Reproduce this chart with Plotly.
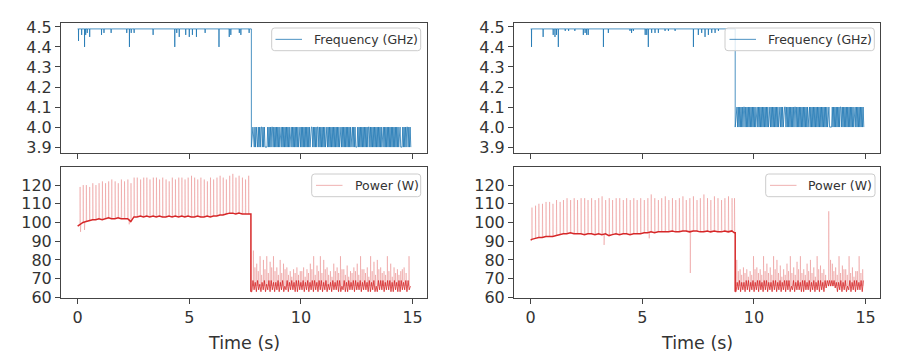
import plotly.graph_objects as go

# ------------------------------------------------------------------ data
# ---- left run: frequency (GHz)
FL_TOP = 4.49
FL_DIP_T = [0.04, 0.18, 0.31, 0.36, 0.43, 0.54, 1.07, 1.18, 1.50, 2.20, 2.32, 2.40, 2.53, 3.38,
            4.35, 4.44, 4.55, 4.84, 5.00, 5.14, 5.32, 5.71, 6.33, 6.79, 6.86, 7.24, 7.31, 7.68]
FL_DIP_V = [4.43, 4.46, 4.40, 4.46, 4.47, 4.45, 4.46, 4.47, 4.47, 4.47, 4.40, 4.47, 4.47, 4.46,
            4.40, 4.47, 4.45, 4.46, 4.45, 4.46, 4.45, 4.47, 4.40, 4.45, 4.46, 4.47, 4.46, 4.47]
FL_DROP_T = 7.78
FL_BAND_LO = 3.9
FL_BAND_HI = 4.0
FL_BAND_T0 = 7.85
FL_BAND_T1 = 14.92
# '1' = high state, '0' = low state, one char per sample
FL_BAND = ("1001010010101101010" "000"
           "1010101101010101010110101010101010110101010101011010101010101010" "111"
           "0101010110101010101011010101010101010101011010101010101010110101" "000"
           "1010101010101010110101010101010101010110101010101010101010101011" "000"
           "1010101101010")

# ---- right run: frequency (GHz)
FR_TOP = 4.49
FR_DIP_T = [0.04, 0.56, 1.01, 1.09, 1.16, 1.24, 1.55, 1.70, 1.98, 2.36, 2.44, 2.51, 2.58, 3.26,
            3.48, 4.45, 4.52, 4.60, 5.13, 5.20, 5.27, 5.42, 5.57, 5.72, 6.02, 6.17, 6.47, 7.29,
            7.51, 7.66, 7.81, 7.96, 8.11, 8.26, 8.41]
FR_DIP_V = [4.40, 4.45, 4.46, 4.45, 4.46, 4.40, 4.48, 4.48, 4.48, 4.46, 4.47, 4.46, 4.46, 4.40,
            4.47, 4.48, 4.47, 4.48, 4.46, 4.46, 4.40, 4.47, 4.47, 4.47, 4.48, 4.48, 4.48, 4.40,
            4.46, 4.47, 4.45, 4.46, 4.47, 4.47, 4.48]
FR_DROP_T = 9.16
FR_BAND_LO = 4.0
FR_BAND_HI = 4.1
FR_BAND_T0 = 9.24
FR_BAND_T1 = 14.92
FR_BAND = ("1010101010110101010101010101011010101010101010101101010101010101101010" "111"
           "010101010101011010101010101010101011010101010101010101010101010110" "000"
           "101010101010110101010101010101010110101010101010")

# ---- left run: power (W)
PL_START = 98.0
PL_SPK_T = [0.10, 0.24, 0.38, 0.53, 0.67, 0.81, 0.95, 1.10, 1.24, 1.38,
            1.52, 1.67, 1.81, 1.95, 2.09, 2.24, 2.38, 2.52, 2.66, 2.81,
            2.95, 3.09, 3.23, 3.38, 3.52, 3.66, 3.80, 3.95, 4.09, 4.23,
            4.37, 4.52, 4.66, 4.80, 4.94, 5.09, 5.23, 5.37, 5.51, 5.66,
            5.80, 5.94, 6.08, 6.23, 6.37, 6.51, 6.65, 6.80, 6.94, 7.08,
            7.22, 7.37, 7.51, 7.65]
PL_SPK_P = [119, 120, 120, 119, 121, 120, 121, 122, 121, 122,
            123, 122, 121, 123, 122, 123, 121, 124, 124, 123,
            124, 124, 123, 124, 124, 123, 124, 123, 122, 124,
            123, 124, 124, 123, 124, 125, 124, 123, 124, 123,
            122, 124, 123, 124, 125, 124, 123, 125, 126, 124,
            125, 124, 123, 125]
PL_BASE = [99.0, 100.0, 100.5, 101.0, 101.5, 101.5, 102.0, 101.5, 102.0, 102.5,
           102.0, 102.0, 102.5, 102.0, 102.0, 102.0, 100.5, 103.0, 103.0, 103.5,
           103.0, 103.5, 103.0, 103.5, 103.0, 103.5, 103.0, 103.0, 103.5, 103.0,
           103.5, 103.0, 103.5, 103.0, 103.5, 103.0, 103.0, 103.5, 103.0, 103.0,
           103.5, 103.0, 103.5, 103.5, 104.0, 104.0, 104.5, 105.0, 105.0, 104.5,
           105.0, 104.5, 104.5, 104.5]
PL_DIP_T = [0.12, 0.30, 2.30]
PL_DIP_V = [95.0, 96.0, 99.0]
PL_DROP_T = 7.76
PL_LOW_T0 = 7.80
PL_LOW_T1 = 14.90
# one digit per sample: watts above 60
PL_LOW = ("3948394738" "4937493948" "3849384936" "4938494839" "3948493849"
          "3849394839" "4938493748" "3948493936" "4938394849" "3948493849"
          "4839384936" "3949493849" "4938394839" "3948493946")
PL_LOW_BASE = 66
PL_LSPK_T = [7.86, 8.01, 8.16, 8.31, 8.46, 8.61, 8.76, 8.91, 9.06, 9.21,
             9.36, 9.51, 9.66, 9.81, 9.96, 10.11, 10.26, 10.41, 10.56, 10.71,
             10.86, 11.01, 11.16, 11.31, 11.46, 11.61, 11.76, 11.91, 12.06, 12.21,
             12.36, 12.51, 12.66, 12.81, 12.96, 13.11, 13.26, 13.41, 13.56, 13.71,
             13.86, 14.01, 14.16, 14.31, 14.46, 14.61, 14.83]
PL_LSPK_P = [85, 78, 82, 80, 82, 79, 82, 76, 80, 78,
             76, 74, 75, 76, 74, 76, 75, 78, 82, 77,
             82, 80, 76, 74, 78, 76, 82, 75, 77, 74,
             76, 78, 82, 75, 76, 82, 79, 80, 76, 74,
             82, 78, 76, 75, 74, 76, 82]
PL_LSPK2_T = [7.93, 8.08, 8.23, 8.38, 8.53, 8.68, 8.83, 8.98, 9.13, 9.28,
              9.43, 9.58, 9.73, 9.88, 10.03, 10.18, 10.33, 10.48, 10.63, 10.78,
              10.93, 11.08, 11.23, 11.38, 11.53, 11.68, 11.83, 11.98, 12.13, 12.28,
              12.43, 12.58, 12.73, 12.88, 13.03, 13.18, 13.33, 13.48, 13.63, 13.78,
              13.93, 14.08, 14.23, 14.38, 14.53, 14.70]
PL_LSPK2_P = [76, 74, 72, 75, 73, 76, 74, 72, 73, 75,
              72, 71, 73, 72, 74, 71, 73, 75, 72, 74,
              73, 75, 72, 71, 74, 73, 75, 72, 71, 73,
              74, 72, 75, 73, 71, 74, 72, 75, 73, 72,
              74, 71, 73, 72, 75, 73]

# ---- right run: power (W)
PR_START = 90.5
PR_SPK_T = [0.05, 0.21, 0.36, 0.52, 0.68, 0.84, 0.99, 1.15, 1.31, 1.46,
            1.62, 1.78, 1.94, 2.09, 2.25, 2.41, 2.56, 2.72, 2.88, 3.04,
            3.19, 3.35, 3.51, 3.66, 3.82, 3.98, 4.14, 4.29, 4.45, 4.61,
            4.76, 4.92, 5.08, 5.24, 5.39, 5.55, 5.71, 5.86, 6.02, 6.18,
            6.34, 6.49, 6.65, 6.81, 6.96, 7.12, 7.28, 7.44, 7.59, 7.75,
            7.91, 8.06, 8.22, 8.38, 8.54, 8.69, 8.85, 9.01, 9.12]
PR_SPK_P = [108, 109, 110, 110, 111, 111, 110, 112, 111, 112,
            113, 112, 113, 112, 113, 113, 112, 113, 112, 113,
            114, 112, 113, 112, 113, 113, 112, 113, 112, 113,
            112, 113, 112, 113, 115, 113, 112, 113, 114, 112,
            113, 112, 113, 114, 112, 113, 114, 112, 113, 115,
            113, 112, 114, 113, 112, 113, 114, 113, 113]
PR_BASE = [91.0, 91.5, 92.0, 92.0, 92.5, 92.5, 92.5, 93.0, 93.5, 94.0,
           94.0, 94.5, 94.0, 94.0, 94.0, 93.5, 94.0, 94.0, 93.5, 94.0,
           93.5, 94.0, 93.0, 93.5, 94.0, 93.5, 94.0, 94.0, 93.5, 94.0,
           94.0, 94.0, 94.5, 94.5, 95.0, 94.5, 95.0, 95.0, 95.0, 95.0,
           95.5, 95.0, 95.0, 95.5, 95.5, 95.0, 95.5, 95.5, 95.0, 95.0,
           95.5, 95.0, 95.5, 95.0, 95.0, 95.5, 95.0, 95.5, 94.5]
PR_DIP_T = [3.28, 5.30, 7.14]
PR_DIP_V = [88.0, 91.5, 73.0]
PR_DROP_T = 9.16
PR_LOW_T0 = 9.20
PR_LOW_T1 = 14.90
PR_LOW = ("3849384839" "4938493849" "3948394938" "4839493849" "3849394936"
          "4938494839" "3948493849" "3849394839" "5969696958" "3849384936"
          "4938493948" "4939")
PR_LOW_BASE = 66
PR_LSPK_T = [9.22, 9.37, 9.52, 9.67, 9.82, 9.97, 10.12, 10.27, 10.42, 10.57,
             10.72, 10.87, 11.02, 11.17, 11.32, 11.47, 11.62, 11.77, 11.92, 12.07,
             12.22, 12.37, 12.52, 12.67, 12.82, 12.97, 13.12, 13.34, 13.50, 13.65,
             13.80, 13.95, 14.10, 14.25, 14.40, 14.55, 14.70, 14.86]
PR_LSPK_P = [80, 75, 76, 75, 74, 82, 76, 75, 82, 78,
             76, 82, 80, 77, 75, 78, 82, 76, 79, 82,
             75, 78, 80, 76, 82, 77, 75, 106, 78, 76,
             82, 77, 75, 82, 76, 74, 82, 75]
PR_LSPK2_T = [9.29, 9.44, 9.59, 9.74, 9.89, 10.04, 10.19, 10.34, 10.49, 10.64,
              10.79, 10.94, 11.09, 11.24, 11.39, 11.54, 11.69, 11.84, 11.99, 12.14,
              12.29, 12.44, 12.59, 12.74, 12.89, 13.04, 13.20, 13.42, 13.57, 13.72,
              13.87, 14.02, 14.17, 14.32, 14.47, 14.62, 14.78]
PR_LSPK2_P = [74, 72, 73, 71, 72, 75, 73, 72, 74, 73,
              72, 75, 73, 71, 72, 74, 73, 72, 75, 73,
              72, 74, 73, 71, 75, 73, 72, 80, 74, 72,
              73, 75, 72, 73, 71, 74, 73]

X_TICKS = [0, 5, 10, 15]
F_TICKS = [3.9, 4.0, 4.1, 4.2, 4.3, 4.4, 4.5]
P_TICKS = [60, 70, 80, 90, 100, 110, 120]
X_RANGE = [-0.745, 15.645]
F_RANGE = [3.8705, 4.5195]
P_RANGE = [59.8, 129.5]

FREQ_LABEL = "Frequency (GHz)"
POWER_LABEL = "Power (W)"
X_LABEL = "Time (s)"

BLUE = "#1f77b4"
RED = "#d62728"
SPIKE = "rgba(214,39,40,0.32)"


# ------------------------------------------------------------------ builders
def freq_series(top, dip_t, dip_v, drop_t, lo, hi, t0, t1, band):
    xs, ys = [0.0], [top]
    for t, v in zip(dip_t, dip_v):
        xs += [t - 0.004, t, t + 0.004]
        ys += [top, v, top]
    xs += [drop_t, drop_t]
    ys += [top, lo]
    n = len(band)
    dt = (t1 - t0) / (n - 1)
    for i, c in enumerate(band):
        xs.append(t0 + i * dt)
        ys.append(hi if c == "1" else lo)
    return xs, ys


def low_band(t0, t1, low):
    n = len(low)
    dt = (t1 - t0) / (n - 1)
    return [t0 + i * dt for i in range(n)], [60 + int(c) for c in low]


def spikes(ts, bases, peaks):
    xs, ys = [], []
    for t, b, p in zip(ts, bases, peaks):
        xs += [t, t + 0.01, t + 0.025, None]
        ys += [b, p, b, None]
    return xs, ys


def base_at(t, spk_t, base, start):
    val = start
    for st, b in zip(spk_t, base):
        if st <= t:
            val = b
    return val


fig = go.Figure()

panels = [
    ("x", "y", FL_TOP, FL_DIP_T, FL_DIP_V, FL_DROP_T, FL_BAND_LO, FL_BAND_HI,
     FL_BAND_T0, FL_BAND_T1, FL_BAND),
    ("x2", "y2", FR_TOP, FR_DIP_T, FR_DIP_V, FR_DROP_T, FR_BAND_LO, FR_BAND_HI,
     FR_BAND_T0, FR_BAND_T1, FR_BAND),
]
for xa, ya, top, dt_, dv, drop, lo, hi, t0, t1, band in panels:
    fx, fy = freq_series(top, dt_, dv, drop, lo, hi, t0, t1, band)
    fig.add_trace(go.Scatter(x=fx, y=fy, mode="lines", xaxis=xa, yaxis=ya, showlegend=False,
                             name=FREQ_LABEL, line=dict(color=BLUE, width=0.8)))

ppanels = [
    ("x3", "y3", PL_START, PL_SPK_T, PL_SPK_P, PL_BASE, PL_DROP_T,
     PL_LOW_T0, PL_LOW_T1, PL_LOW, PL_LOW_BASE, PL_LSPK_T, PL_LSPK_P,
     PL_LSPK2_T, PL_LSPK2_P, PL_DIP_T, PL_DIP_V),
    ("x4", "y4", PR_START, PR_SPK_T, PR_SPK_P, PR_BASE, PR_DROP_T,
     PR_LOW_T0, PR_LOW_T1, PR_LOW, PR_LOW_BASE, PR_LSPK_T, PR_LSPK_P,
     PR_LSPK2_T, PR_LSPK2_P, PR_DIP_T, PR_DIP_V),
]
for (xa, ya, start, st, sp, base, drop, t0, t1, low, lbase, lst, lsp,
     lst2, lsp2, dipt, dipv) in ppanels:
    sx, sy = spikes(st, base, sp)
    lx, ly = spikes(lst, [lbase] * len(lst), lsp)
    l2x, l2y = spikes(lst2, [lbase] * len(lst2), lsp2)
    dx, dy = spikes(dipt, [base_at(t, st, base, start) for t in dipt], dipv)
    fig.add_trace(go.Scatter(x=sx + lx + l2x + dx, y=sy + ly + l2y + dy, mode="lines",
                             xaxis=xa, yaxis=ya, showlegend=False, name=POWER_LABEL,
                             connectgaps=False, line=dict(color=SPIKE, width=0.7)))
    # high-load baseline and the drop
    bx, by = low_band(t0, t1, low)
    hx = [0.0] + list(st) + [drop, drop]
    hy = [start] + list(base) + [base[-1], by[0]]
    fig.add_trace(go.Scatter(x=hx, y=hy, mode="lines", xaxis=xa, yaxis=ya, showlegend=False,
                             line=dict(color=RED, width=1.5)))
    # low-load dense band
    fig.add_trace(go.Scatter(x=[drop] + bx, y=[by[0]] + by, mode="lines", xaxis=xa, yaxis=ya,
                             showlegend=False, line=dict(color=RED, width=0.8)))

# ------------------------------------------------------------------ layout
W, H = 884, 345          # page has an 8px body margin
OFF = 8


def px(x):
    return (x - OFF) / W


def py(y):
    return 1 - (y - OFF) / H


LEFT_DOM = [px(61), px(427)]
RIGHT_DOM = [px(514), px(880)]
TOP_DOM = [py(153), py(23)]
BOT_DOM = [py(297.7), py(167.3)]

tickfont = dict(family="DejaVu Sans", size=16, color="#333333")
common = dict(showline=True, mirror=True, linecolor="#444444", linewidth=1, ticks="outside",
              ticklen=5, tickwidth=1, tickcolor="#444444", showgrid=False, zeroline=False,
              tickfont=tickfont, automargin=False)


def xax(dom, anchor, labels):
    return dict(domain=dom, anchor=anchor, range=X_RANGE, tickvals=X_TICKS,
                ticktext=[str(v) for v in X_TICKS], showticklabels=labels, **common)


def yax(dom, anchor, ticks, rng, fmt):
    return dict(domain=dom, anchor=anchor, range=rng, tickvals=ticks,
                ticktext=[fmt.format(v) for v in ticks], **common)


def rounded_box(x0p, x1p, y0p, y1p, r=3.0):
    x0, x1 = px(x0p), px(x1p)
    yt, yb = py(y0p), py(y1p)
    rx, ry = r / W, r / H
    path = (f"M {x0 + rx},{yt} L {x1 - rx},{yt} Q {x1},{yt} {x1},{yt - ry} "
            f"L {x1},{yb + ry} Q {x1},{yb} {x1 - rx},{yb} L {x0 + rx},{yb} "
            f"Q {x0},{yb} {x0},{yb + ry} L {x0},{yt - ry} Q {x0},{yt} {x0 + rx},{yt} Z")
    return dict(type="path", path=path, xref="paper", yref="paper", layer="above",
                fillcolor="rgba(255,255,255,0.8)", line=dict(color="#cccccc", width=1))


# legend boxes: (box left, box right, box top, box bottom, line x0, line x1, text left, label, colour)
LEGENDS = [
    (271.7, 420.7, 28.0, 50.7, 275.5, 302.0, 311.7, FREQ_LABEL, BLUE),
    (725.0, 874.3, 28.0, 50.7, 729.5, 756.0, 765.7, FREQ_LABEL, BLUE),
    (311.7, 420.7, 174.0, 196.7, 316.0, 342.5, 352.7, POWER_LABEL, "rgba(214,39,40,0.45)"),
    (765.7, 875.0, 174.0, 196.7, 770.0, 796.5, 806.0, POWER_LABEL, "rgba(214,39,40,0.45)"),
]
shapes, annotations = [], []
for bl, br, bt, bb, lx0, lx1, tx, label, col in LEGENDS:
    shapes.append(rounded_box(bl, br, bt, bb))
    ym = (bt + bb) / 2
    shapes.append(dict(type="line", xref="paper", yref="paper", layer="above",
                       x0=px(lx0), x1=px(lx1), y0=py(ym), y1=py(ym),
                       line=dict(color=col, width=0.8)))
    annotations.append(dict(text=label, x=px(tx), y=py(ym), xref="paper", yref="paper",
                            showarrow=False, xanchor="left", yanchor="middle",
                            font=dict(family="DejaVu Sans", size=12.5, color="#333333")))

for dom in (LEFT_DOM, RIGHT_DOM):
    annotations.append(dict(text=X_LABEL, x=sum(dom) / 2, y=py(343), xref="paper", yref="paper",
                            showarrow=False, xanchor="center", yanchor="middle",
                            font=dict(family="DejaVu Sans", size=17.5, color="#333333")))

fig.update_layout(
    width=W, height=H, margin=dict(l=0, r=0, t=0, b=0),
    paper_bgcolor="white", plot_bgcolor="white", showlegend=False,
    xaxis=xax(LEFT_DOM, "y", False), yaxis=yax(TOP_DOM, "x", F_TICKS, F_RANGE, "{:.1f}"),
    xaxis2=xax(RIGHT_DOM, "y2", False), yaxis2=yax(TOP_DOM, "x2", F_TICKS, F_RANGE, "{:.1f}"),
    xaxis3=xax(LEFT_DOM, "y3", True), yaxis3=yax(BOT_DOM, "x3", P_TICKS, P_RANGE, "{:d}"),
    xaxis4=xax(RIGHT_DOM, "y4", True), yaxis4=yax(BOT_DOM, "x4", P_TICKS, P_RANGE, "{:d}"),
    shapes=shapes, annotations=annotations,
)

fig.write_html("out.html")
